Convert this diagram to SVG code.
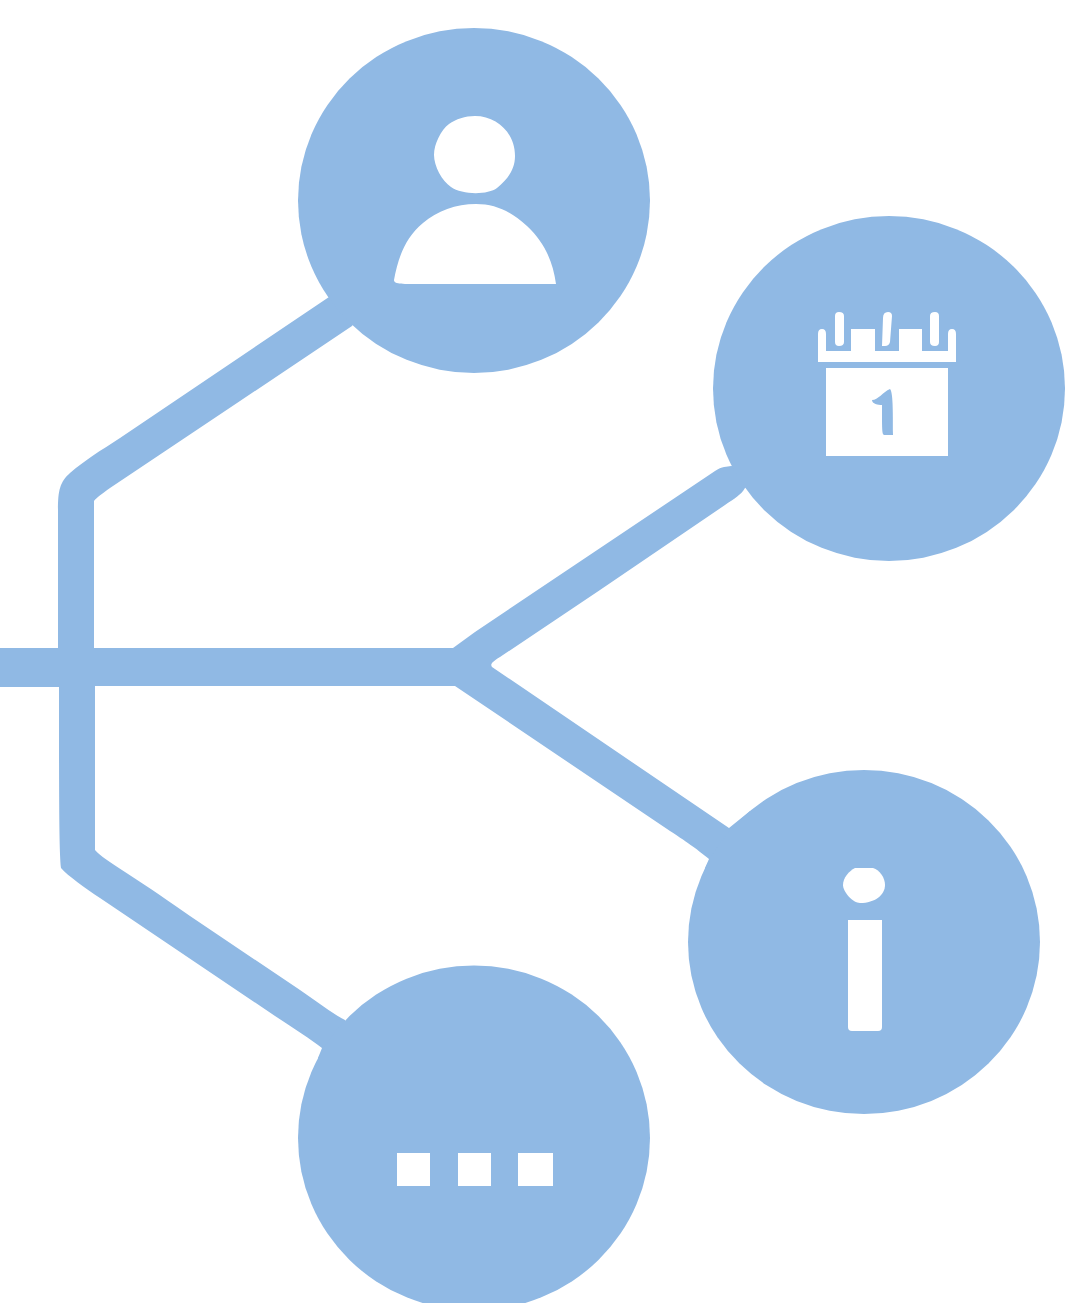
<svg xmlns="http://www.w3.org/2000/svg" width="1091" height="1303" viewBox="0 0 1091 1303">
<style>.b{fill:#90b9e4}.w{fill:#fff}</style>
<rect width="1091" height="1303" fill="#fff"/>
<g id="connectors">
<path class="b" d="M0 648H58V510C58 490 60 482 70 473C85 460 100 451 120 438L329 297L370 300L352 326L240 401L110 488C102 494 97 497 94 501V648H453L475 632L715 471C722 466 727 467 731 466L770 470L745 488C741 495 735 498 725 505L600 590L500 657C492 662 490 664 492 667L729 828L750 811L750 870L705 868L709 859C698 850 690 844 670 831L455 686H95V850C100 856 110 862 125 872C150 888 170 902 190 916L300 990C320 1004 335 1015 345 1020L350 1060L318 1058L322 1048C310 1039 295 1029 275 1016L100 898C85 888 68 876 61 868C59 850 59 790 59 687H0Z"/>
</g>
<g id="node-user">
<ellipse class="b" cx="474" cy="200.500" rx="176" ry="172.500"/>
<path class="w" d="M475 116C497 116 515 133 515 156C515 170 507 180 497 188C488 195 462 195 451 187C442 181 434 166 434 155C434 144 441 130 449 124C456 119 465 116 475 116Z"/>
<path class="w" d="M394 280C398 258 405 238 423 223C437 211 456 204 476 204C496 204 512 212 527 226C545 243 553 262 556 284H420C400 284 394 284 394 280Z"/>
</g>
<g id="node-calendar">
<ellipse class="b" cx="889" cy="388.500" rx="176" ry="172.500"/>
<path class="w" d="M835 316Q835 312 839 312Q844 312 844 316V342Q844 346 839 346Q835 346 835 342ZM883 318Q883 312 888 312Q892 312 892 316L890 342Q889 346 885 346H882ZM930 316Q930 312 935 312Q939 312 939 316V342Q939 346 935 346Q930 346 930 342Z"/>
<path class="w" d="M818 334Q818 329 822 329Q826 329 826 334V351H851V329H875V351H899V329H922V351H948V334Q948 329 952 329Q956 329 956 334V362H818Z"/>
<path class="w" fill-rule="evenodd" d="M826 368H948V456H826ZM872 400C878 400 883 392 890 389C893 392 893 410 893 435H885C882 435 882 433 882 405C878 405 872 404 872 400Z"/>
</g>
<g id="node-info">
<ellipse class="b" cx="864" cy="942" rx="176" ry="172"/>
<path class="w" d="M855 868H873C880 870 885 878 885 885C885 895 875 903 860 903C853 903 843 892 843 885C843 878 849 871 855 868Z"/>
<path class="w" d="M848 920H882V1027Q882 1031 878 1031H852Q848 1031 848 1027Z"/>
</g>
<g id="node-more">
<ellipse class="b" cx="474" cy="1138" rx="176" ry="172.500"/>
<rect class="w" x="397" y="1153" width="33" height="33"/>
<rect class="w" x="458" y="1153" width="33" height="33"/>
<rect class="w" x="518" y="1153" width="35" height="33"/>
</g>
</svg>
